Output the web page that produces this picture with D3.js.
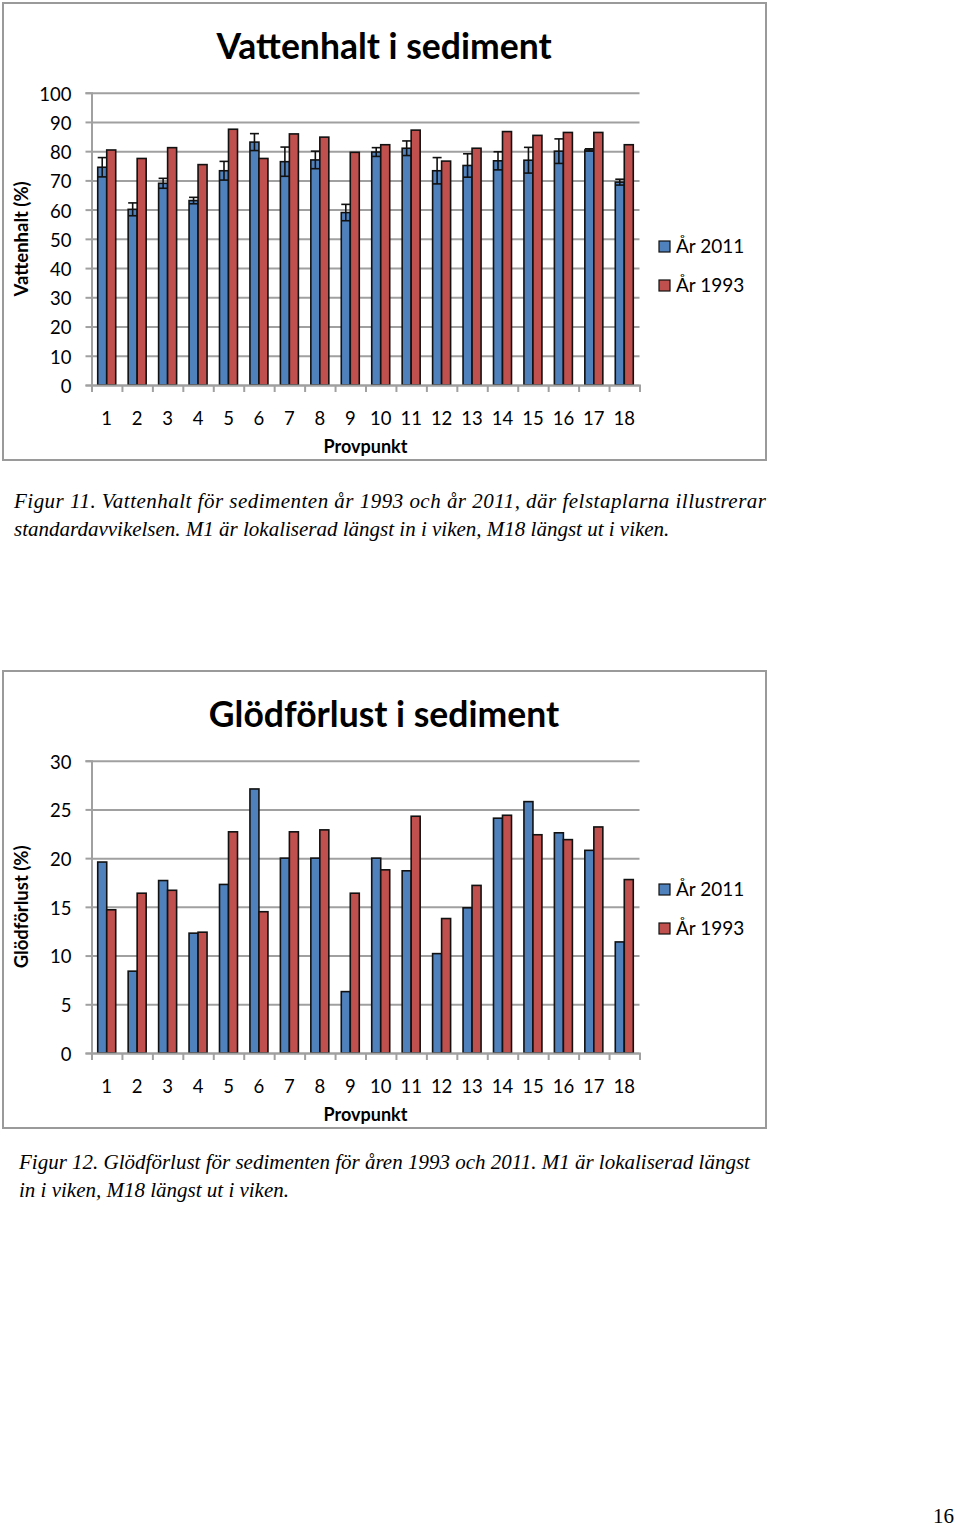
<!DOCTYPE html>
<html>
<head>
<meta charset="utf-8">
<script src="https://cdn.jsdelivr.net/npm/d3@7"></script>
<style>
  body { margin: 0; background: #fff; }
  svg { display: block; }
</style>
</head>
<body>
<div class="page"></div>
<script>
// data
const POINTS = ["1","2","3","4","5","6","7","8","9","10","11","12","13","14","15","16","17","18"];
const SERIES = ["År 2011", "År 1993"];

const WATER_2011 = [74.5, 60.1, 69.0, 63.1, 73.3, 83.1, 76.4, 77.0, 59.0, 79.7, 81.0, 73.3, 75.1, 76.7, 76.9, 80.0, 80.4, 69.4];
const WATER_2011_SD = [3.3, 2.2, 1.7, 1.1, 3.2, 2.9, 5.0, 3.0, 2.8, 1.5, 2.5, 4.5, 4.0, 3.1, 4.4, 4.2, 0.4, 1.0];
const WATER_1993 = [80.4, 77.5, 81.2, 75.4, 87.5, 77.5, 85.9, 84.8, 79.6, 82.2, 87.2, 76.6, 81.0, 86.7, 85.4, 86.4, 86.4, 82.2];
const WATER_TICKS = [0, 10, 20, 30, 40, 50, 60, 70, 80, 90, 100];

const LOI_2011 = [19.6, 8.4, 17.7, 12.3, 17.3, 27.1, 20.0, 20.0, 6.3, 20.0, 18.7, 10.2, 14.9, 24.1, 25.8, 22.6, 20.8, 11.4];
const LOI_1993 = [14.7, 16.4, 16.7, 12.4, 22.7, 14.5, 22.7, 22.9, 16.4, 18.8, 24.3, 13.8, 17.2, 24.4, 22.4, 21.9, 23.2, 17.8];
const LOI_TICKS = [0, 5, 10, 15, 20, 25, 30];

const COLORS = ["#4f81bd", "#c0504d"];
const GRID = "#a0a0a0";

const W = 960, H = 1529;
const svg = d3.select(".page").append("svg").attr("width", W).attr("height", H);
svg.append("rect").attr("width", W).attr("height", H).attr("fill", "#fff");

const SANS = "Lato, 'Open Sans', sans-serif";
const SERIF = "'Liberation Serif', 'DejaVu Serif', serif";

function drawChart(top, title, yTitle, yMax, ticks, v2011, v1993, sd, legendTop) {
    const frame = { x: 3, y: top, w: 763, h: 457 };
    const plot = { left: 91.5, right: 639.5, top: top + 89.7, bottom: top + 382 };

    const g = svg.append("g");

    g.append("rect")
        .attr("x", frame.x).attr("y", frame.y)
        .attr("width", frame.w).attr("height", frame.h)
        .attr("fill", "#fff").attr("stroke", "#9a9a9a").attr("stroke-width", 2);

    g.append("text")
        .attr("x", 384).attr("y", top + 56)
        .attr("text-anchor", "middle")
        .attr("font-family", SANS).attr("font-weight", "bold").attr("font-size", 35.5)
        .text(title);

    const y = d3.scaleLinear().domain([0, yMax]).range([plot.bottom, plot.top]);
    const x = d3.scaleBand().domain(POINTS).range([plot.left, plot.right]);
    const xSub = d3.scaleBand().domain(SERIES).range([0, 18]);
    const off = (x.bandwidth() - 18) / 2;

    // grid lines
    g.append("g")
        .attr("transform", `translate(${plot.left},0)`)
        .call(d3.axisLeft(y).tickValues(ticks).tickSize(-(plot.right - plot.left)).tickFormat(""))
        .call(a => a.select(".domain").remove())
        .call(a => a.selectAll("line").attr("stroke", GRID).attr("stroke-width", 2));

    // y axis
    g.append("g")
        .attr("transform", `translate(${plot.left},0)`)
        .call(d3.axisLeft(y).tickValues(ticks).tickSize(6).tickPadding(14))
        .call(a => a.select(".domain").attr("stroke", GRID).attr("stroke-width", 2))
        .call(a => a.selectAll("line").attr("stroke", GRID).attr("stroke-width", 2))
        .call(a => a.selectAll("text").attr("font-family", SANS).attr("font-size", 18.5).attr("fill", "#000").attr("dy", "0.4em"));

    // bars
    const rows = POINTS.map((p, i) => ({ p, vals: [v2011[i], v1993[i]], sd: sd ? sd[i] : null }));
    const groups = g.selectAll(".grp").data(rows).enter().append("g")
        .attr("transform", d => `translate(${x(d.p) + off},0)`);

    groups.selectAll("rect")
        .data(d => d.vals.map((v, k) => ({ s: SERIES[k], v, k })))
        .enter().append("rect")
        .attr("x", d => xSub(d.s))
        .attr("y", d => y(d.v))
        .attr("width", xSub.bandwidth())
        .attr("height", d => y(0) - y(d.v))
        .attr("fill", d => COLORS[d.k])
        .attr("stroke", "#111").attr("stroke-width", 1.6);

    // error bars on 2011 series
    if (sd) {
        const eb = groups.append("g").attr("stroke", "#111").attr("stroke-width", 1.6);
        const cx = xSub(SERIES[0]) + xSub.bandwidth() / 2;
        eb.append("line")
            .attr("x1", cx).attr("x2", cx)
            .attr("y1", d => y(d.vals[0] + d.sd)).attr("y2", d => y(d.vals[0] - d.sd));
        eb.append("line")
            .attr("x1", cx - 4.5).attr("x2", cx + 4.5)
            .attr("y1", d => y(d.vals[0] + d.sd)).attr("y2", d => y(d.vals[0] + d.sd));
        eb.append("line")
            .attr("x1", cx - 4.5).attr("x2", cx + 4.5)
            .attr("y1", d => y(d.vals[0] - d.sd)).attr("y2", d => y(d.vals[0] - d.sd));
    }

    // x axis: boundary ticks + centered labels
    const xb = d3.scaleLinear().domain([0, POINTS.length]).range([plot.left, plot.right]);
    g.append("g")
        .attr("transform", `translate(0,${plot.bottom})`)
        .call(d3.axisBottom(xb).tickValues(d3.range(POINTS.length + 1)).tickSize(7).tickFormat(""))
        .call(a => a.select(".domain").attr("stroke", GRID).attr("stroke-width", 2))
        .call(a => a.selectAll("line").attr("stroke", GRID).attr("stroke-width", 2));

    g.append("g")
        .attr("transform", `translate(0,${plot.bottom})`)
        .call(d3.axisBottom(x).tickSize(0).tickPadding(27))
        .call(a => a.select(".domain").remove())
        .call(a => a.selectAll("text").attr("font-family", SANS).attr("font-size", 18.5).attr("fill", "#000"));

    g.append("text")
        .attr("x", (plot.left + plot.right) / 2).attr("y", plot.bottom + 68)
        .attr("text-anchor", "middle")
        .attr("font-family", SANS).attr("font-weight", "bold").attr("font-size", 18)
        .text("Provpunkt");

    g.append("text")
        .attr("transform", `translate(28,${(plot.top + plot.bottom) / 2}) rotate(-90)`)
        .attr("text-anchor", "middle")
        .attr("font-family", SANS).attr("font-weight", "bold").attr("font-size", 18.5)
        .text(yTitle);

    // legend
    const leg = g.append("g").selectAll("g").data(SERIES).enter().append("g")
        .attr("transform", (d, i) => `translate(659,${top + legendTop + i * 39})`);
    leg.append("rect").attr("width", 11).attr("height", 11)
        .attr("fill", (d, i) => COLORS[i]).attr("stroke", "#111").attr("stroke-width", 1.2);
    leg.append("text").attr("x", 17).attr("y", 12)
        .attr("font-family", SANS).attr("font-size", 19)
        .text(d => d);
}

drawChart(3, "Vattenhalt i sediment", "Vattenhalt (%)", 100, WATER_TICKS, WATER_2011, WATER_1993, WATER_2011_SD, 238);
drawChart(671, "Glödförlust i sediment", "Glödförlust (%)", 30, LOI_TICKS, LOI_2011, LOI_1993, null, 213);

// captions
function caption(x, y0, lines, justifyFirst) {
    lines.forEach((ln, i) => {
        const t = svg.append("text")
            .attr("x", x).attr("y", y0 + i * 27.5)
            .attr("font-family", SERIF).attr("font-style", "italic").attr("font-size", 21)
            .text(ln);
        if (i === 0 && justifyFirst) {
            t.attr("textLength", justifyFirst).attr("lengthAdjust", "spacing");
        }
    });
}

caption(14, 508, [
    "Figur 11. Vattenhalt för sedimenten år 1993 och år 2011, där felstaplarna illustrerar",
    "standardavvikelsen. M1 är lokaliserad längst in i viken, M18 längst ut i viken."
], 752);

caption(19, 1169, [
    "Figur 12. Glödförlust för sedimenten för åren 1993 och 2011. M1 är lokaliserad längst",
    "in i viken, M18 längst ut i viken."
], null);

svg.append("text")
    .attr("x", 954).attr("y", 1523)
    .attr("text-anchor", "end")
    .attr("font-family", SERIF).attr("font-size", 21)
    .text("16");
</script>
</body>
</html>
